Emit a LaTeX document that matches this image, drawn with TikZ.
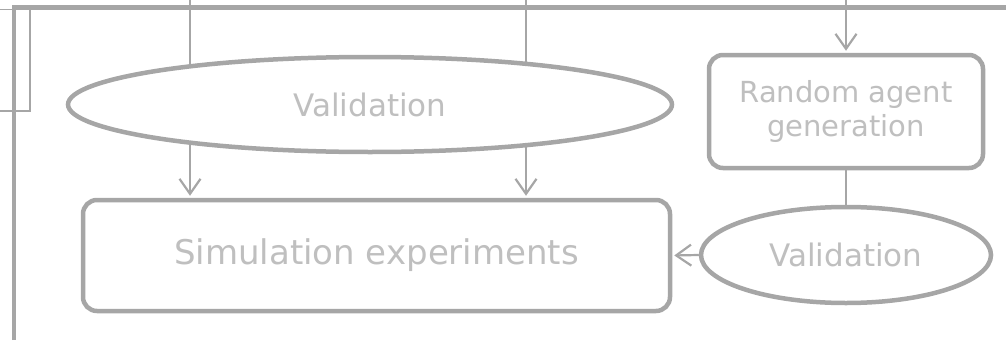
\documentclass[tikz,border=0pt]{standalone}
\usepackage{fontspec}
\setmainfont{DejaVu Sans}
\usetikzlibrary{arrows.meta,shapes.geometric,backgrounds}
\definecolor{edgegray}{HTML}{A6A6A6}
\definecolor{labelgray}{HTML}{BFBFBF}
\begin{document}
\begin{tikzpicture}[x=1pt,y=-1pt,
  every node/.style={text=labelgray, inner sep=0pt},
  procbox/.style={draw=edgegray, line width=4.5pt, rounded corners=14pt, fill=white, align=center},
  checkoval/.style={draw=edgegray, line width=4.5pt, ellipse, fill=white},
  link/.style={draw=edgegray, line width=2.2pt},
  flow/.style={link, -{Straight Barb[length=15pt,width=21pt,line width=2.2pt]}, shorten >=2pt},
  frame/.style={draw=edgegray, line width=4.5pt, line join=miter},
  thinframe/.style={draw=edgegray, line width=1.6pt}]
  \useasboundingbox (0,0) rectangle (1006,340);

  % process boxes and validation ovals
  \node[procbox, minimum width=587pt, minimum height=111pt,
        font=\fontsize{34}{40}\selectfont] (sim) at (376.5,255.5) {Simulation experiments};
  \node[checkoval, minimum width=604pt, minimum height=95pt,
        font=\fontsize{31}{37}\selectfont] (val1) at (370,104.5) {Validation};
  \node[procbox, minimum width=274pt, minimum height=113pt,
        font=\fontsize{29}{34}\selectfont] (rag) at (846,111.5) {Random agent\\generation};
  \node[checkoval, minimum width=290pt, minimum height=96pt,
        font=\fontsize{31}{37}\selectfont] (val2) at (846,255) {Validation};

  % entry points at the top edge
  \coordinate (in1) at (190,0);
  \coordinate (in2) at (526,0);
  \coordinate (in3) at (846,0);

  \begin{scope}[on background layer]
    % outer frame
    \coordinate (fbot) at (14,340);
    \coordinate (fcorner) at (14,7.5);
    \coordinate (fright) at (1006,7.5);
    \draw[frame] (fbot) -- (fcorner) -- (fright);
    \draw[thinframe] (-5,9.5) rectangle (30,111);

    % feeds into the first validation
    \draw[link] (in1) -- (in1 |- val1.center);
    \draw[link] (in2) -- (in2 |- val1.center);
    % validation into the experiments
    \draw[flow] (in1 |- val1.center) -- (in1 |- sim.north);
    \draw[flow] (in2 |- val1.center) -- (in2 |- sim.north);
  \end{scope}

  % right-hand branch
  \draw[flow] (in3) -- (rag.north);
  \draw[link] (rag.south) -- (val2.north);
  \draw[flow] (val2.west) -- (sim.east);
\end{tikzpicture}
\end{document}
